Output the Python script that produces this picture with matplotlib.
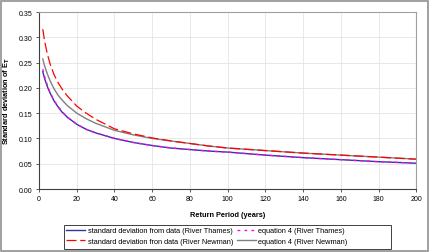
import matplotlib
matplotlib.use('Agg')
import matplotlib.pyplot as plt
from matplotlib.patches import Rectangle

# return periods (years)
T = [2, 3, 4, 5, 6, 8, 10, 12, 15, 20, 25, 30, 40, 50, 60, 70, 80, 90,
     100, 120, 140, 160, 180, 200]

# standard deviation from data (River Thames)
sd_thames = [0.232, 0.218, 0.207, 0.197, 0.189, 0.174, 0.163, 0.153, 0.142,
             0.128, 0.118, 0.111, 0.100, 0.092, 0.086, 0.081, 0.078, 0.075,
             0.073, 0.067, 0.062, 0.058, 0.054, 0.051]
# equation 4 (River Thames)
eq_thames = [0.237, 0.222, 0.210, 0.199, 0.190, 0.175, 0.164, 0.154, 0.142,
             0.128, 0.118, 0.111, 0.100, 0.092, 0.086, 0.081, 0.078, 0.075,
             0.073, 0.067, 0.062, 0.058, 0.054, 0.051]
# standard deviation from data (River Newman)
sd_newman = [0.316, 0.292, 0.274, 0.259, 0.246, 0.226, 0.211, 0.199, 0.184,
             0.164, 0.150, 0.138, 0.119, 0.109, 0.101, 0.095, 0.090, 0.085,
             0.081, 0.076, 0.071, 0.067, 0.063, 0.059]
# equation 4 (River Newman)
eq_newman = [0.257, 0.243, 0.232, 0.222, 0.213, 0.198, 0.186, 0.177, 0.165,
             0.150, 0.139, 0.130, 0.116, 0.107, 0.100, 0.095, 0.090, 0.085,
             0.081, 0.076, 0.071, 0.067, 0.063, 0.059]

XTICKS = list(range(0, 201, 20))
YTICKS = [0.00, 0.05, 0.10, 0.15, 0.20, 0.25, 0.30, 0.35]

plt.rcParams['font.family'] = ['Liberation Sans', 'DejaVu Sans']

W, H = 431, 253
fig = plt.figure(figsize=(W / 100, H / 100), dpi=100)
fig.patches.append(Rectangle((0.002, 0.004), 0.99, 0.99, transform=fig.transFigure,
                             fill=False, edgecolor='#909090', linewidth=1.2))
ax = fig.add_axes([0.0905, 0.249, 0.8755, 0.6996])

ax.plot(T, sd_thames, color='#333399', linewidth=1.0,
        label='standard deviation from data (River Thames)')
ax.plot(T, eq_thames, color='#ff00ff', linewidth=1.0, linestyle=(0, (2, 3)),
        label='equation 4 (River Thames)')
ax.plot(T, eq_newman, color='#808080', linewidth=1.0,
        label='equation 4 (River Newman)')
ax.plot(T, sd_newman, color='#ff0000', linewidth=0.9, linestyle=(0, (8, 3)),
        label='standard deviation fron data (River Newman)')

ax.set_xlim(0, 200)
ax.set_ylim(0, 0.35)
ax.set_xticks(XTICKS)
ax.set_yticks(YTICKS)
ax.set_yticklabels(['%.2f' % v for v in YTICKS])
ax.tick_params(labelsize=5, length=2.5, width=0.6, pad=2, color='#404040')
ax.grid(color='#e4e4e4', linewidth=0.6)
ax.set_axisbelow(True)
for s in ['top', 'right']:
    ax.spines[s].set_color('#a0a0a0')
    ax.spines[s].set_linewidth(0.8)
for s in ['left', 'bottom']:
    ax.spines[s].set_color('#404040')
    ax.spines[s].set_linewidth(0.8)

ax.set_xlabel('Return Period (years)', fontsize=5.3, fontweight='bold', labelpad=6)
ax.set_ylabel('Standard deviation of E$_\\mathbf{T}$', fontsize=5.3, fontweight='bold',
              labelpad=5)

# legend box drawn separately (Excel-style, wider than its contents)
fig.patches.append(Rectangle((64 / W, 1 - 250 / H), (391 - 64) / W, 24 / H,
                             transform=fig.transFigure, fill=True,
                             facecolor='white', edgecolor='#404040',
                             linewidth=0.7, zorder=5))
h, l = ax.get_legend_handles_labels()
order = [0, 3, 1, 2]
leg = fig.legend([h[i] for i in order], [l[i] for i in order], ncol=2,
                 loc='upper left', bbox_to_anchor=(64 / W, 1 - 226 / H),
                 fontsize=5.3, frameon=False,
                 handlelength=2.6, handletextpad=0.3, columnspacing=0.5,
                 labelspacing=0.45, borderpad=0.3, borderaxespad=0)
leg.set_zorder(6)

fig.savefig('out.png', dpi=100)
